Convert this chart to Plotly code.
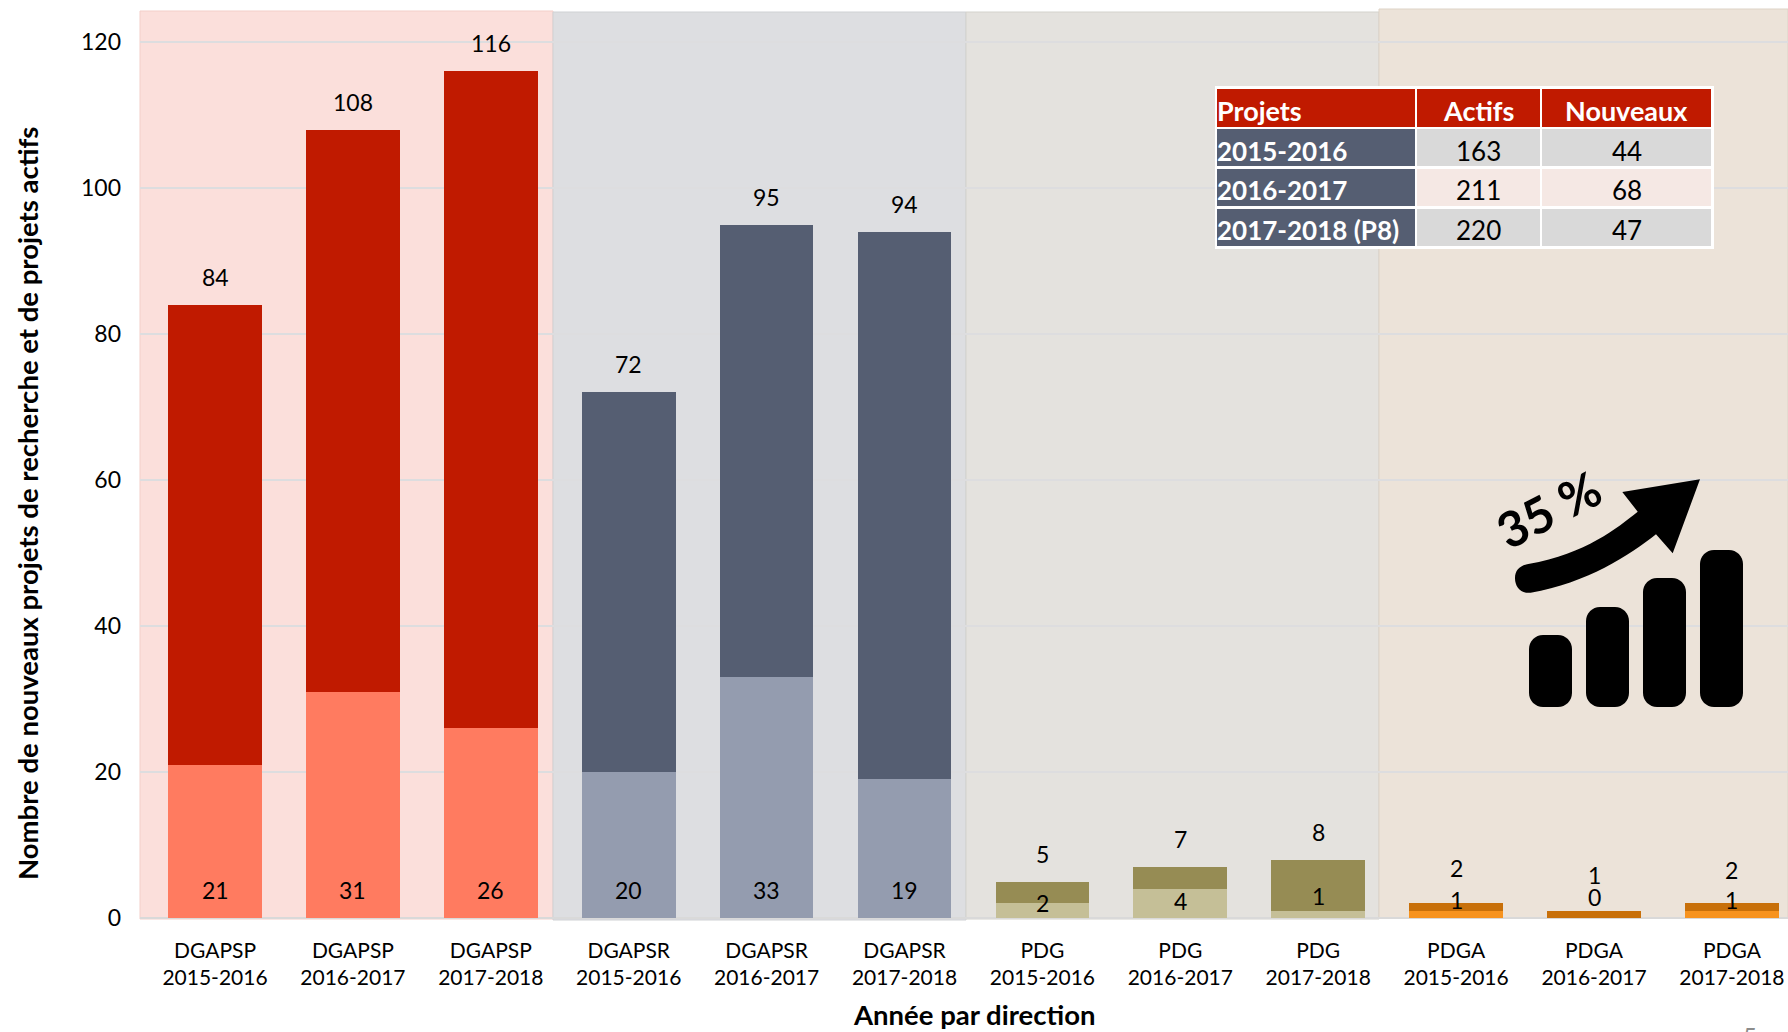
import plotly.graph_objects as go

W, H = 1788, 1032
PL, PR, PT, PB = 140, 1788, 11, 918

directions = ["DGAPSP"] * 3 + ["DGAPSR"] * 3 + ["PDG"] * 3 + ["PDGA"] * 3
years = ["2015-2016", "2016-2017", "2017-2018"] * 4
actifs_totaux = [84, 108, 116, 72, 95, 94, 5, 7, 8, 2, 1, 2]
nouveaux = [21, 31, 26, 20, 33, 19, 2, 4, 1, 1, 0, 1]

table_headers = ["Projets", "Actifs", "Nouveaux"]
table_years = ["2015-2016", "2016-2017", "2017-2018 (P8)"]
table_actifs = [163, 211, 220]
table_nouveaux = [44, 68, 47]

dark_colors = ["#C01A00"] * 3 + ["#555E72"] * 3 + ["#968C54"] * 3 + ["#C8700A"] * 3
light_colors = ["#FF7B60"] * 3 + ["#949CAF"] * 3 + ["#C5BF97"] * 3 + ["#F7931E"] * 3

FONT = "Lato, Carlito, Calibri, sans-serif"
FS = 21
LABEL_FS = 23


def fx(x):
    return (x - PL) / (PR - PL)


def fy(y):
    return (PB - y) / (PB - PT)


def P(x, y):
    return f"{fx(x):.5f},{fy(y):.5f}"


def rect(x0, y0, x1, y1, color, line=None, lw=0):
    return dict(type="rect", xref="paper", yref="paper", layer="below",
                x0=fx(x0), x1=fx(x1), y0=fy(y1), y1=fy(y0), fillcolor=color,
                line=dict(color=line or color, width=lw))


x_idx = list(range(len(directions)))
fig = go.Figure()
fig.add_bar(x=x_idx, y=actifs_totaux, name="Projets actifs", width=0.68,
            marker=dict(color=dark_colors, line_width=0), hoverinfo="x+y")
fig.add_bar(x=x_idx, y=nouveaux, name="Nouveaux projets", width=0.68,
            marker=dict(color=light_colors, line_width=0), hoverinfo="x+y")

shapes = [
    rect(140, 11, 553, 919, "#FBDFDB", "#F3CFC9", 1),
    rect(553, 12, 966, 920, "#DDDEE1", "#CFD1D4", 1),
    rect(966, 12, 1379, 919, "#E4E2DE", "#D3D2CC", 1),
    rect(1379, 9, 1788, 918, "#ECE3D9", "#DDD3C6", 1),
]

# Inset table
col_edges = [(1217, 1415), (1417, 1540), (1542, 1711)]
row_edges = [(89, 127), (129, 166), (169, 206), (209, 246)]
cell_fills = ["#D9D9D9", "#F5E8E4", "#D9D9D9"]
table_shapes = [dict(type="rect", xref="paper", yref="paper", layer="above",
                     x0=fx(1215), x1=fx(1714), y0=fy(249), y1=fy(86),
                     fillcolor="white", line_width=0)]
annotations = []


def cell(col, row, color):
    (x0, x1), (y0, y1) = col_edges[col], row_edges[row]
    table_shapes.append(dict(type="rect", xref="paper", yref="paper", layer="above",
                             x0=fx(x0), x1=fx(x1), y0=fy(y1), y1=fy(y0),
                             fillcolor=color, line_width=0))


def cell_text(col, row, text, color, bold, size, dy=3):
    (x0, x1), (y0, y1) = col_edges[col], row_edges[row]
    left = col == 0
    annotations.append(dict(
        xref="paper", yref="paper", x=fx(x0 if left else (x0 + x1) / 2), y=fy((y0 + y1) / 2 + dy),
        text=f"<b>{text}</b>" if bold else str(text), showarrow=False,
        xanchor="left" if left else "center", yanchor="middle", xshift=-2 if left else 0,
        font=dict(family=FONT, size=size, color=color)))


for c, h in enumerate(table_headers):
    cell(c, 0, "#C01A00")
    cell_text(c, 0, h, "white", True, 27, dy=2)
for r in range(3):
    cell(0, r + 1, "#555E72")
    cell(1, r + 1, cell_fills[r])
    cell(2, r + 1, cell_fills[r])
    cell_text(0, r + 1, table_years[r], "white", True, 26)
    cell_text(1, r + 1, table_actifs[r], "black", False, 26)
    cell_text(2, r + 1, table_nouveaux[r], "black", False, 26)


# Icon: four rounded bars and a curved arrow
def rounded(x0, y0, x1, y1, r=14):
    k = r * 0.45
    return ("M" + P(x0 + r, y0) + " L" + P(x1 - r, y0)
            + " C" + P(x1 - k, y0) + " " + P(x1, y0 + k) + " " + P(x1, y0 + r)
            + " L" + P(x1, y1 - r)
            + " C" + P(x1, y1 - k) + " " + P(x1 - k, y1) + " " + P(x1 - r, y1)
            + " L" + P(x0 + r, y1)
            + " C" + P(x0 + k, y1) + " " + P(x0, y1 - k) + " " + P(x0, y1 - r)
            + " L" + P(x0, y0 + r)
            + " C" + P(x0, y0 + k) + " " + P(x0 + k, y0) + " " + P(x0 + r, y0) + " Z")


icon_shapes = []
for x0, y0 in [(1529, 635), (1586, 607), (1643, 578), (1700, 550)]:
    icon_shapes.append(dict(type="path", xref="paper", yref="paper", layer="above",
                            path=rounded(x0, y0, x0 + 43, 707), fillcolor="black", line_width=0))
arrow = ("M" + P(1528.3, 564) + " C" + P(1586.7, 553.3) + " " + P(1616.7, 528.3) + " " + P(1637.7, 511.7)
         + " L" + P(1622.3, 492) + " L" + P(1700, 479.3) + " L" + P(1672.7, 553.3) + " L" + P(1656, 534.3)
         + " C" + P(1630, 555) + " " + P(1586.7, 583.3) + " " + P(1530.7, 592.7)
         + " C" + P(1521, 594) + " " + P(1515, 587) + " " + P(1515, 578.3)
         + " C" + P(1515, 570) + " " + P(1520, 565.5) + " " + P(1528.3, 564) + " Z")
icon_shapes.append(dict(type="path", xref="paper", yref="paper", layer="above",
                        path=arrow, fillcolor="black", line_width=0))

annotations.append(dict(xref="paper", yref="paper", x=fx(1548), y=fy(509), text="<b>35 %</b>",
                        textangle=-27, showarrow=False, xanchor="center", yanchor="middle",
                        font=dict(family=FONT, size=49, color="black")))

# Value labels
total_label_gaps = [28] * 9 + [35, 36, 33]
new_label_offsets = [28, 28, 28, 28, 28, 28, 15, 17, 22, 18, 21, 18]
for i in x_idx:
    annotations.append(dict(x=i, y=actifs_totaux[i], xref="x", yref="y", text=str(actifs_totaux[i]),
                            showarrow=False, yanchor="middle", yshift=total_label_gaps[i],
                            font=dict(family=FONT, size=LABEL_FS, color="black")))
    annotations.append(dict(x=i, y=0, xref="x", yref="y", text=str(nouveaux[i]),
                            showarrow=False, yanchor="middle", yshift=new_label_offsets[i],
                            font=dict(family=FONT, size=LABEL_FS, color="black")))

# Axis titles (placed off-centre, as in the reference)
annotations.append(dict(xref="paper", yref="paper", x=fx(974), y=fy(1014),
                        text="<b>Année par direction</b>", showarrow=False,
                        xanchor="center", yanchor="middle",
                        font=dict(family=FONT, size=27.5, color="black")))
annotations.append(dict(xref="paper", yref="paper", x=fx(27), y=fy(504),
                        text="<b>Nombre de nouveaux projets de recherche et de projets actifs</b>",
                        showarrow=False, textangle=-90, xanchor="center", yanchor="middle",
                        font=dict(family=FONT, size=27.5, color="black")))

# Clipped slide number
annotations.append(dict(xref="paper", yref="paper", x=fx(1750), y=fy(1019), text="5", showarrow=False,
                        xanchor="center", yanchor="top", font=dict(family=FONT, size=24, color="#8C8C8C")))

step = 137.9
first = 215
fig.update_layout(
    width=W, height=H, margin=dict(l=PL, r=W - PR, t=PT, b=H - PB, pad=0),
    paper_bgcolor="white", plot_bgcolor="rgba(0,0,0,0)",
    barmode="overlay", showlegend=False, bargap=0,
    font=dict(family=FONT, size=FS, color="black"),
    shapes=shapes + table_shapes + icon_shapes,
    annotations=annotations,
    xaxis=dict(
        range=[(PL - first) / step, (PR - first) / step],
        tickmode="array", tickvals=x_idx,
        ticktext=[f"{d}<br>{y}" for d, y in zip(directions, years)],
        showgrid=False, zeroline=False, showline=False, ticks="",
        ticklabelstandoff=18,
        tickfont=dict(family=FONT, size=FS, color="black"),
    ),
    yaxis=dict(
        range=[0, (PB - PT) / 7.3],
        tickmode="array", tickvals=[0, 20, 40, 60, 80, 100, 120],
        showgrid=True, gridcolor="#DDDDDF", gridwidth=1.5,
        zeroline=True, zerolinecolor="#D9D9D9", zerolinewidth=2,
        showline=False, ticks="", ticklabelstandoff=18,
        tickfont=dict(family=FONT, size=LABEL_FS, color="black"),
    ),
)

fig.write_html("out.html", post_script="document.body.style.margin='0';",
               config={"displayModeBar": False})
